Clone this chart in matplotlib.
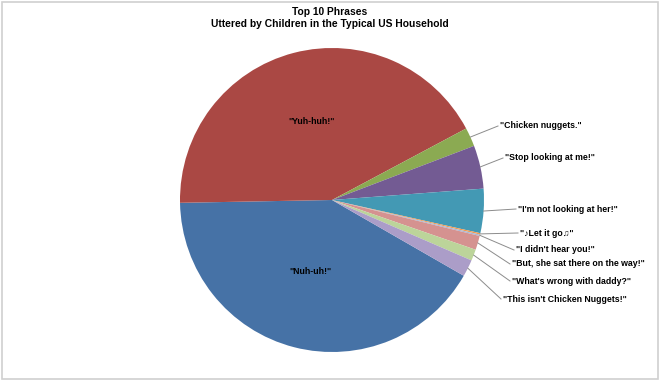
import matplotlib
matplotlib.use("Agg")
import matplotlib.pyplot as plt
from matplotlib.patches import Rectangle
import numpy as np

plt.rcParams['font.family'] = ['Liberation Sans', 'DejaVu Sans']

phrases = ['"Nuh-uh!"', '"Yuh-huh!"', '"Chicken nuggets."', '"Stop looking at me!"',
           '"I\'m not looking at her!"', '"\u266aLet it go\u266b"', '"I didn\'t hear you!"',
           '"But, she sat there on the way!"', '"What\'s wrong with daddy?"',
           '"This isn\'t Chicken Nuggets!"']
values = [41.4, 42.5, 2.0, 4.6, 4.7, 0.15, 0.15, 1.5, 1.2, 1.8]
colors = ['#4672A6', '#AA4844', '#8BAA52', '#735B93', '#4399B4', '#F39A4E',
          '#A9B9D6', '#D59290', '#BCD49A', '#AB9DC8']

W, H = 660, 380
fig = plt.figure(figsize=(W / 100, H / 100), dpi=100)
ax = fig.add_axes([0, 0, 1, 1])

cx, cy, r = 332, 200, 152
start = -29.9
wedges, _ = ax.pie(values, colors=colors, startangle=start, counterclock=False,
                   center=(cx, H - cy), radius=r, frame=True,
                   wedgeprops=dict(linewidth=0))
ax.set_xlim(0, W)
ax.set_ylim(0, H)
ax.set_aspect('auto')
ax.axis('off')

def Y(y):
    return H - y

inside = {0: (310, 271), 1: (312, 122)}
for i, (x, y) in inside.items():
    ax.text(x, Y(y), phrases[i], ha='center', va='center', fontsize=6.3,
            fontweight='bold', color='black')

label_pos = {2: (500, 126), 3: (505, 158), 4: (518, 209), 5: (520, 233),
             6: (516, 250), 7: (512, 264), 8: (512, 281), 9: (503, 299)}
for i, (lx, ly) in label_pos.items():
    w = wedges[i]
    m = np.deg2rad((w.theta1 + w.theta2) / 2)
    px = cx + r * np.cos(m)
    py = H - cy + r * np.sin(m)
    ax.plot([px, lx - 2], [py, Y(ly)], color='#8C8C8C', lw=0.7)
    ax.text(lx, Y(ly), phrases[i], ha='left', va='center', fontsize=6.3,
            fontweight='bold', color='black')

ax.text(330, Y(12), 'Top 10 Phrases', ha='center', va='center', fontsize=7.4,
        fontweight='bold')
ax.text(330, Y(24), 'Uttered by Children in the Typical US Household', ha='center',
        va='center', fontsize=7.4, fontweight='bold')

fig.patches.append(Rectangle((1.5 / W, 1.5 / H), (W - 4) / W, (H - 3.5) / H,
                             transform=fig.transFigure, fill=False,
                             edgecolor='#D0D0D0', lw=1.2))
fig.savefig('out.png', dpi=100)
